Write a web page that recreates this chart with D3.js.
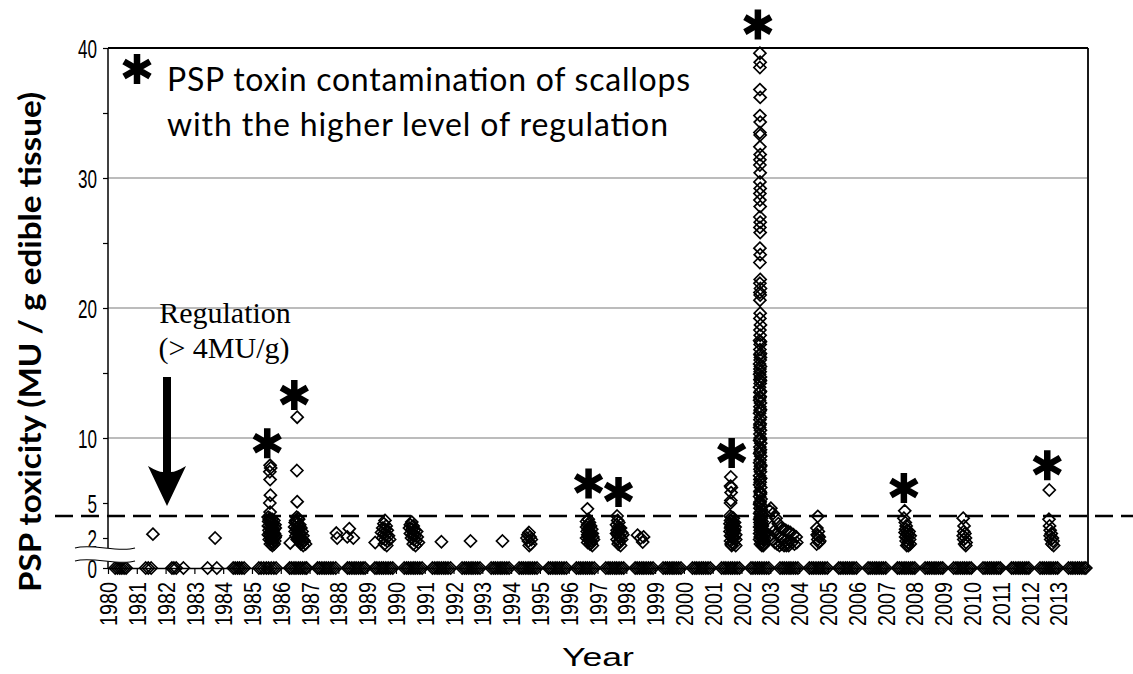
<!DOCTYPE html>
<html lang="en">
<head>
    <meta charset="UTF-8">
    <title>PSP toxicity of scallops, 1980-2013</title>
    <script src="https://d3js.org/d3.v7.min.js"></script>
    <style>
        body, html {
            margin: 0;
            padding: 0;
            background-color: #ffffff;
        }
        svg {
            display: block;
        }
        .tick-label {
            font-family: "Liberation Sans", Arial, sans-serif;
            fill: #000;
        }
    </style>
</head>
<body>
    <div id="chart"></div>
    <script>
        // samples with no toxin detected (0 MU/g), decimal year of sampling
        const zeroDates1980s = [
            1980.25, 1980.33, 1980.41, 1980.48, 1980.56, 1980.63,
            1981.31, 1981.40, 1981.50,
            1982.22, 1982.29, 1982.37, 1982.62,
            1983.46, 1983.78,
            1984.35, 1984.42, 1984.50, 1984.57, 1984.65, 1984.73,
            1985.24, 1985.32, 1985.41, 1985.50, 1985.58, 1985.67, 1985.76, 1985.84,
            1986.31, 1986.38, 1986.46, 1986.53, 1986.61, 1986.68, 1986.76, 1986.84, 1986.90,
            1987.28, 1987.35, 1987.43, 1987.51, 1987.58, 1987.66, 1987.74, 1987.82, 1987.91,
            1988.32, 1988.39, 1988.47, 1988.55, 1988.62, 1988.70, 1988.78, 1988.86, 1988.93,
            1989.27, 1989.34, 1989.42, 1989.50, 1989.57, 1989.65, 1989.73, 1989.81, 1989.89
        ];
        const zeroDates1990s = [
            1990.29, 1990.37, 1990.44, 1990.52, 1990.60, 1990.67, 1990.75, 1990.83, 1990.91,
            1991.27, 1991.35, 1991.43, 1991.50, 1991.58, 1991.66, 1991.73, 1991.81, 1991.90,
            1992.30, 1992.38, 1992.45, 1992.53, 1992.61, 1992.68, 1992.76, 1992.84, 1992.92,
            1993.31, 1993.39, 1993.46, 1993.54, 1993.62, 1993.69, 1993.77, 1993.85, 1993.93,
            1994.28, 1994.36, 1994.43, 1994.51, 1994.59, 1994.66, 1994.74, 1994.82, 1994.90,
            1995.30, 1995.37, 1995.45, 1995.53, 1995.60, 1995.68, 1995.76, 1995.84, 1995.92,
            1996.27, 1996.35, 1996.42, 1996.50, 1996.58, 1996.65, 1996.73, 1996.81, 1996.89,
            1997.29, 1997.37, 1997.44, 1997.52, 1997.60, 1997.67, 1997.75, 1997.83, 1997.91,
            1998.31, 1998.38, 1998.46, 1998.54, 1998.61, 1998.69, 1998.77, 1998.85, 1998.93,
            1999.28, 1999.36, 1999.43, 1999.51, 1999.59, 1999.66, 1999.74, 1999.82, 1999.90
        ];
        const zeroDates2000s = [
            2000.30, 2000.38, 2000.45, 2000.53, 2000.61, 2000.68, 2000.76, 2000.84, 2000.92,
            2001.31, 2001.39, 2001.46, 2001.54, 2001.62, 2001.69, 2001.77, 2001.85, 2001.93,
            2002.33, 2002.40, 2002.48, 2002.56, 2002.63, 2002.71, 2002.79, 2002.87, 2002.95,
            2003.34, 2003.42, 2003.49, 2003.57, 2003.65, 2003.72, 2003.80, 2003.88, 2003.96,
            2004.36, 2004.44, 2004.51, 2004.59, 2004.67, 2004.74, 2004.82, 2004.90, 2004.98,
            2005.38, 2005.45, 2005.53, 2005.61, 2005.68, 2005.76, 2005.84, 2005.91, 2005.99,
            2006.40, 2006.47, 2006.55, 2006.63, 2006.70, 2006.78, 2006.86, 2006.93, 2007.01,
            2007.42, 2007.49, 2007.57, 2007.65, 2007.72, 2007.80, 2007.88, 2007.95, 2008.02,
            2008.38, 2008.46, 2008.53, 2008.61, 2008.69, 2008.76, 2008.84, 2008.92, 2008.99,
            2009.37, 2009.45, 2009.52, 2009.60, 2009.68, 2009.75, 2009.83, 2009.91, 2009.98
        ];
        const zeroDates2010s = [
            2010.39, 2010.46, 2010.54, 2010.62, 2010.69, 2010.77, 2010.85, 2010.92, 2010.99,
            2011.38, 2011.45, 2011.53, 2011.61, 2011.68, 2011.76, 2011.84, 2011.91, 2011.98,
            2012.37, 2012.45, 2012.52, 2012.60, 2012.68, 2012.75, 2012.83, 2012.91, 2012.98,
            2013.36, 2013.44, 2013.51, 2013.59, 2013.67, 2013.74, 2013.82, 2013.90, 2013.96
        ];

        // toxic samples [decimal year, MU/g]
        const toxic1980s = [
            [1981.56, 2.35], [1983.72, 2.0],
            [1985.63, 7.9], [1985.65, 7.7], [1985.62, 7.4], [1985.63, 6.8], [1985.64, 5.6], [1985.62, 5.0], [1985.63, 4.3],
            [1985.56, 3.9], [1985.62, 3.8], [1985.70, 3.7], [1985.76, 3.6], [1985.58, 3.5], [1985.66, 3.4], [1985.73, 3.3], [1985.80, 3.2],
            [1985.57, 3.1], [1985.63, 3.0], [1985.69, 2.9], [1985.75, 2.8], [1985.81, 2.9], [1985.59, 2.7], [1985.66, 2.6], [1985.72, 2.5],
            [1985.78, 2.4], [1985.57, 2.3], [1985.63, 2.2], [1985.70, 2.1], [1985.76, 2.0], [1985.82, 2.2], [1985.60, 1.9], [1985.67, 1.8],
            [1985.73, 1.7], [1985.79, 1.8], [1985.64, 1.6], [1985.71, 1.5], [1985.77, 1.6],
            [1985.60, 3.65], [1985.68, 3.15], [1985.74, 2.65], [1985.62, 2.45], [1985.80, 2.05], [1985.66, 1.95], [1985.70, 1.65],
            [1986.57, 11.6], [1986.56, 7.5], [1986.57, 5.1], [1986.33, 1.67],
            [1986.55, 3.9], [1986.60, 3.8], [1986.52, 3.6], [1986.62, 3.7], [1986.50, 3.4], [1986.58, 3.3], [1986.66, 3.2], [1986.48, 3.0],
            [1986.55, 2.9], [1986.63, 2.8], [1986.70, 2.9], [1986.50, 2.6], [1986.58, 2.5], [1986.66, 2.4], [1986.74, 2.6], [1986.53, 2.2],
            [1986.61, 2.1], [1986.69, 2.0], [1986.77, 2.2], [1986.57, 1.9], [1986.65, 1.8], [1986.73, 1.7], [1986.81, 1.8], [1986.70, 1.6],
            [1986.78, 1.5], [1986.86, 1.6],
            [1986.56, 3.45], [1986.64, 3.05], [1986.60, 2.65], [1986.68, 2.3], [1986.62, 1.95], [1986.76, 1.9],
            [1987.93, 2.45], [1987.96, 2.0], [1988.38, 2.85], [1988.31, 2.1], [1988.52, 2.0],
            [1989.28, 1.7], [1989.62, 3.6], [1989.58, 3.3], [1989.66, 3.1], [1989.54, 2.9], [1989.62, 2.8], [1989.70, 2.7], [1989.50, 2.5],
            [1989.58, 2.4], [1989.66, 2.3], [1989.74, 2.2], [1989.54, 2.0], [1989.62, 1.9], [1989.70, 1.8], [1989.78, 1.9], [1989.60, 1.6],
            [1989.68, 1.5]
        ];
        const toxic1990s = [
            [1990.55, 3.45], [1990.50, 3.2], [1990.60, 3.1], [1990.47, 2.9], [1990.56, 2.8], [1990.64, 2.7], [1990.72, 2.6], [1990.50, 2.4],
            [1990.58, 2.3], [1990.66, 2.2], [1990.74, 2.1], [1990.54, 2.0], [1990.62, 1.9], [1990.70, 1.8], [1990.78, 1.7], [1990.60, 1.6],
            [1990.68, 1.5],
            [1991.58, 1.75], [1992.59, 1.8], [1993.70, 1.8],
            [1994.62, 2.5], [1994.58, 2.3], [1994.66, 2.1], [1994.55, 2.0], [1994.70, 1.9], [1994.60, 1.8], [1994.68, 1.6], [1994.63, 1.5],
            [1996.65, 4.55], [1996.68, 3.7], [1996.62, 3.5], [1996.72, 3.4], [1996.66, 3.2], [1996.76, 3.1], [1996.62, 3.0], [1996.70, 2.9],
            [1996.80, 2.8], [1996.64, 2.6], [1996.72, 2.5], [1996.82, 2.4], [1996.66, 2.3], [1996.74, 2.2], [1996.84, 2.1], [1996.62, 2.0],
            [1996.70, 1.9], [1996.78, 1.8], [1996.86, 1.9], [1996.66, 1.7], [1996.74, 1.6], [1996.82, 1.5],
            [1996.68, 2.75], [1996.76, 2.35], [1996.70, 2.05], [1996.78, 1.65],
            [1997.68, 4.0], [1997.70, 3.6], [1997.74, 3.4], [1997.66, 3.2], [1997.72, 3.0], [1997.80, 2.9], [1997.68, 2.7], [1997.76, 2.6],
            [1997.84, 2.5], [1997.66, 2.4], [1997.72, 2.2], [1997.80, 2.1], [1997.88, 2.3], [1997.68, 1.9], [1997.76, 1.8], [1997.84, 1.9],
            [1997.72, 1.6], [1997.80, 1.5],
            [1997.74, 2.85], [1997.70, 2.45], [1997.78, 2.05], [1997.74, 1.75],
            [1998.39, 2.26], [1998.50, 2.0], [1998.60, 2.1], [1998.57, 1.73]
        ];
        const toxic2001 = [
            [2001.63, 7.0], [2001.62, 6.3], [2001.65, 6.2], [2001.64, 5.8], [2001.63, 5.2], [2001.62, 5.0],
            [2001.60, 4.0], [2001.66, 3.9], [2001.72, 3.8], [2001.62, 3.6], [2001.68, 3.5], [2001.76, 3.4], [2001.60, 3.3], [2001.66, 3.2],
            [2001.72, 3.1], [2001.78, 3.0], [2001.62, 2.9], [2001.70, 2.8], [2001.76, 2.7], [2001.60, 2.6], [2001.66, 2.5], [2001.72, 2.4],
            [2001.80, 2.3], [2001.62, 2.2], [2001.68, 2.1], [2001.74, 2.0], [2001.80, 1.9], [2001.62, 1.8], [2001.68, 1.7], [2001.74, 1.6],
            [2001.80, 1.5], [2001.66, 1.5],
            [2001.70, 3.35], [2001.64, 3.05], [2001.74, 2.65], [2001.68, 2.35], [2001.70, 1.95], [2001.64, 1.6]
        ];
        const toxic2002 = [
            [2002.64, 39.6], [2002.65, 38.9], [2002.64, 38.5], [2002.64, 36.8], [2002.65, 36.2], [2002.64, 34.8], [2002.65, 34.3], [2002.64, 33.5],
            [2002.65, 33.3], [2002.64, 32.4], [2002.65, 31.8], [2002.64, 31.4], [2002.64, 31.0], [2002.65, 30.4], [2002.64, 29.7], [2002.65, 29.2],
            [2002.64, 28.8], [2002.64, 28.3], [2002.65, 27.8], [2002.64, 27.0], [2002.65, 26.6], [2002.64, 26.2], [2002.65, 25.8], [2002.64, 24.6],
            [2002.65, 24.1], [2002.64, 23.5], [2002.65, 22.2], [2002.64, 21.9], [2002.66, 21.5], [2002.64, 21.2], [2002.65, 21.0], [2002.64, 20.6],
            [2002.65, 19.6], [2002.64, 19.2], [2002.66, 18.7], [2002.64, 18.3], [2002.65, 17.9], [2002.63, 17.5], [2002.66, 17.4], [2002.65, 17.2],
            [2002.64, 16.8], [2002.66, 16.5], [2002.64, 16.4], [2002.65, 16.0], [2002.63, 15.7], [2002.66, 15.5], [2002.65, 15.1], [2002.63, 14.9],
            [2002.66, 14.7], [2002.64, 14.5], [2002.65, 14.2], [2002.63, 13.9], [2002.66, 13.6], [2002.64, 13.5], [2002.65, 13.2], [2002.63, 12.9],
            [2002.66, 12.7], [2002.64, 12.4], [2002.65, 12.1], [2002.63, 11.9], [2002.66, 11.6], [2002.64, 11.4], [2002.65, 11.1], [2002.63, 10.8],
            [2002.66, 10.6], [2002.64, 10.3], [2002.65, 10.0],
            [2002.63, 9.8], [2002.67, 9.6], [2002.64, 9.3], [2002.66, 9.1], [2002.63, 8.8], [2002.67, 8.6], [2002.65, 8.3], [2002.63, 8.1],
            [2002.67, 7.9], [2002.64, 7.6], [2002.66, 7.4], [2002.63, 7.1], [2002.67, 6.9], [2002.65, 6.6], [2002.63, 6.4], [2002.67, 6.2],
            [2002.64, 5.9], [2002.66, 5.7], [2002.63, 5.5], [2002.68, 5.3], [2002.65, 5.1], [2002.63, 4.9], [2002.67, 4.8], [2002.64, 4.6],
            [2002.69, 4.5], [2002.66, 4.3], [2002.63, 4.2], [2002.68, 4.1], [2002.65, 3.9], [2002.70, 3.8], [2002.63, 3.7], [2002.67, 3.6],
            [2002.72, 3.5], [2002.64, 3.4], [2002.69, 3.3], [2002.66, 3.2], [2002.73, 3.1], [2002.63, 3.0], [2002.68, 2.9], [2002.74, 2.8],
            [2002.65, 2.7], [2002.70, 2.6], [2002.76, 2.5], [2002.63, 2.4], [2002.68, 2.3], [2002.73, 2.2], [2002.78, 2.3], [2002.65, 2.1],
            [2002.70, 2.0], [2002.76, 1.9], [2002.80, 2.0], [2002.63, 1.9], [2002.68, 1.8], [2002.73, 1.7], [2002.78, 1.6], [2002.66, 1.6],
            [2002.71, 1.5], [2002.76, 1.5],
            [2002.66, 16.2], [2002.64, 15.3], [2002.66, 14.4], [2002.64, 13.1], [2002.66, 12.2], [2002.64, 11.0], [2002.66, 9.9],
            [2002.65, 8.9], [2002.66, 7.8], [2002.64, 6.8], [2002.66, 5.8], [2002.64, 5.0],
            [2003.02, 4.6], [2002.98, 4.4], [2003.10, 4.2], [2003.20, 3.8], [2003.28, 3.3], [2003.37, 2.9], [2003.45, 2.8], [2003.54, 2.7],
            [2003.62, 2.6], [2003.70, 2.5], [2003.80, 2.3], [2003.90, 2.1], [2003.05, 3.0], [2003.12, 2.6], [2003.20, 2.4], [2003.28, 2.2],
            [2003.36, 2.0], [2003.44, 1.9], [2003.52, 1.8], [2003.60, 1.7], [2003.68, 1.8], [2003.76, 1.7], [2003.84, 1.6], [2003.92, 1.7],
            [2003.00, 2.2], [2003.08, 1.9], [2003.16, 1.7], [2003.24, 1.6], [2003.32, 1.5], [2003.40, 1.6], [2003.48, 1.5], [2003.56, 1.5],
            [2003.64, 1.5]
        ];
        const toxic2004to2013 = [
            [2004.65, 3.97], [2004.62, 2.9], [2004.67, 2.6], [2004.63, 2.3], [2004.70, 2.1], [2004.65, 1.9], [2004.69, 1.7], [2004.61, 1.6],
            [2004.72, 1.8], [2004.66, 2.2],
            [2007.67, 4.4], [2007.64, 3.8], [2007.69, 3.4], [2007.72, 3.1], [2007.70, 2.8], [2007.76, 2.7], [2007.82, 2.6], [2007.68, 2.5],
            [2007.74, 2.4], [2007.80, 2.3], [2007.86, 2.2], [2007.70, 2.1], [2007.76, 2.0], [2007.84, 1.9], [2007.72, 1.8], [2007.78, 1.7],
            [2007.86, 1.6], [2007.80, 1.5], [2007.74, 1.5],
            [2009.70, 3.8], [2009.73, 3.1], [2009.72, 2.6], [2009.76, 2.4], [2009.70, 2.2], [2009.78, 2.0], [2009.72, 1.9], [2009.80, 1.7],
            [2009.75, 1.6], [2009.79, 1.5],
            [2012.69, 6.0], [2012.68, 3.7], [2012.70, 3.1], [2012.72, 2.7], [2012.76, 2.4], [2012.72, 2.2], [2012.80, 2.0], [2012.74, 1.9],
            [2012.82, 1.8], [2012.78, 1.6], [2012.84, 1.5]
        ];

        // events with the higher regulation level (asterisks)
        const eventYears = [1985.53, 1986.47, 1996.69, 1997.73, 2001.66, 2002.57, 2007.64, 2012.62];
        const eventLevels = [9.6, 13.3, 6.5, 5.85, 8.85, 41.8, 6.15, 7.9];

        const yearTicks = d3.range(1980, 2014);
        const yTickValues = [0, 2, 5, 10, 15, 20, 25, 30, 35, 40];
        const yTickLabels = [0, 2, 5, 10, 20, 30, 40];
        const gridValues = [10, 20, 30];
        const regulationLevel = 4;

        const width = 1133;
        const height = 674;

        const svg = d3.select("#chart")
            .append("svg")
            .attr("width", width)
            .attr("height", height);

        const x = d3.scaleLinear().domain([1980, 2014]).range([108, 1087]);
        // broken axis: the 0-5 band is stretched
        const y = d3.scaleLinear().domain([0, 2, 4, 5, 40]).range([568, 538, 516, 503, 48]);

        // gridlines
        svg.append("g")
            .selectAll("line")
            .data(gridValues)
            .join("line")
            .attr("x1", x(1980))
            .attr("x2", x(2014))
            .attr("y1", d => y(d))
            .attr("y2", d => y(d))
            .attr("stroke", "#a6a6a6")
            .attr("stroke-width", 1.4);

        // all samples
        const points = [
            ...zeroDates1980s, ...zeroDates1990s, ...zeroDates2000s, ...zeroDates2010s
        ].map(d => [d, 0]).concat(toxic1980s, toxic1990s, toxic2001, toxic2002, toxic2004to2013);

        svg.append("g")
            .selectAll("path")
            .data(points)
            .join("path")
            .attr("transform", d => `translate(${x(d[0])},${y(d[1])})`)
            .attr("d", "M0,-6L6,0L0,6L-6,0Z")
            .attr("fill", "none")
            .attr("stroke", "#000")
            .attr("stroke-width", 1.7);

        // regulation level dashed line
        svg.append("line")
            .attr("x1", 55)
            .attr("x2", width)
            .attr("y1", y(regulationLevel))
            .attr("y2", y(regulationLevel))
            .attr("stroke", "#000")
            .attr("stroke-width", 2.6)
            .attr("stroke-dasharray", "18 8");

        // x axis
        const xAxis = d3.axisBottom(x)
            .tickValues(yearTicks)
            .tickFormat(d3.format("d"))
            .tickSize(6)
            .tickSizeOuter(0);

        const gx = svg.append("g")
            .attr("transform", `translate(0,${y(0)})`)
            .call(xAxis);
        gx.select(".domain").attr("stroke-width", 1.5);
        gx.selectAll(".tick line").attr("stroke-width", 1.2);
        gx.selectAll("text")
            .attr("class", "tick-label")
            .attr("transform", "rotate(-90)")
            .attr("text-anchor", "end")
            .attr("x", -14)
            .attr("y", 0)
            .attr("dy", "0.36em")
            .attr("font-size", 24)
            .attr("textLength", 44)
            .attr("lengthAdjust", "spacingAndGlyphs");

        // y axis
        const yAxis = d3.axisLeft(y)
            .tickValues(yTickValues)
            .tickFormat(d => yTickLabels.includes(d) ? d : "")
            .tickSize(5)
            .tickPadding(6);

        const gy = svg.append("g")
            .attr("transform", `translate(${x(1980)},0)`)
            .call(yAxis);
        gy.select(".domain").remove();
        gy.selectAll(".tick line").attr("stroke-width", 1.2);
        gy.selectAll("text")
            .attr("class", "tick-label")
            .attr("font-size", 25)
            .attr("dy", "0.36em")
            .attr("textLength", function() { return this.textContent.length * 9.5; })
            .attr("lengthAdjust", "spacingAndGlyphs");

        // axis line with a break between 0 and 2
        svg.append("line")
            .attr("x1", x(1980)).attr("x2", x(1980))
            .attr("y1", y(40)).attr("y2", 548)
            .attr("stroke", "#000").attr("stroke-width", 1.5);
        svg.append("line")
            .attr("x1", x(1980)).attr("x2", x(1980))
            .attr("y1", 561).attr("y2", y(0))
            .attr("stroke", "#000").attr("stroke-width", 1.5);

        svg.append("path")
            .attr("d", "M75,548 C92,543 118,553 135,548 L135,561 C118,566 92,556 75,561 Z")
            .attr("fill", "#fff");
        svg.append("path")
            .attr("d", "M75,548 C92,543 118,553 135,548 M75,561 C92,556 118,566 135,561")
            .attr("fill", "none")
            .attr("stroke", "#000")
            .attr("stroke-width", 1.2);

        // frame top and right
        svg.append("line")
            .attr("x1", x(1980)).attr("x2", x(2014) + 1)
            .attr("y1", y(40)).attr("y2", y(40))
            .attr("stroke", "#000").attr("stroke-width", 2);
        svg.append("line")
            .attr("x1", x(2014) + 1).attr("x2", x(2014) + 1)
            .attr("y1", y(40)).attr("y2", y(0))
            .attr("stroke", "#000").attr("stroke-width", 1.8);

        // asterisk marks
        const asteriskPath = "M0,-15V15M-13,-7.5L13,7.5M-13,7.5L13,-7.5";
        svg.append("g")
            .selectAll("path")
            .data(eventYears.map((d, i) => [d, eventLevels[i]]))
            .join("path")
            .attr("transform", d => `translate(${x(d[0])},${y(d[1])})`)
            .attr("d", asteriskPath)
            .attr("stroke", "#000")
            .attr("stroke-width", 6.5)
            .attr("fill", "none");

        // legend
        svg.append("path")
            .attr("transform", "translate(137,69)")
            .attr("d", asteriskPath)
            .attr("stroke", "#000")
            .attr("stroke-width", 6.5);

        const legendText = svg.append("text")
            .attr("font-family", "Lato, 'Open Sans', sans-serif")
            .attr("font-size", 32)
            .attr("fill", "#000");
        legendText.append("tspan")
            .attr("x", 167).attr("y", 91)
            .attr("textLength", 523)
            .text("PSP toxin contamination of scallops");
        legendText.append("tspan")
            .attr("x", 167).attr("y", 136)
            .attr("textLength", 501)
            .text("with the higher level of regulation");

        // regulation annotation
        const regText = svg.append("text")
            .attr("font-family", "'Liberation Serif', 'Times New Roman', serif")
            .attr("font-size", 30)
            .attr("text-anchor", "middle")
            .attr("fill", "#000");
        regText.append("tspan").attr("x", 225).attr("y", 323).text("Regulation");
        regText.append("tspan").attr("x", 224).attr("y", 358).text("(> 4MU/g)");

        svg.append("path")
            .attr("d", "M148,466 Q158,472 163,472 L163,377 L171,377 L171,472 Q176,472 186,466 L167,506 Z")
            .attr("fill", "#000");

        // axis titles
        svg.append("text")
            .attr("transform", "translate(41,342) rotate(-90)")
            .attr("text-anchor", "middle")
            .attr("font-family", "Lato, 'Open Sans', sans-serif")
            .attr("font-weight", 700)
            .attr("font-size", 30)
            .attr("textLength", 500)
            .attr("lengthAdjust", "spacingAndGlyphs")
            .text("PSP toxicity (MU / g edible tissue)");

        svg.append("text")
            .attr("class", "tick-label")
            .attr("x", 598)
            .attr("y", 666)
            .attr("text-anchor", "middle")
            .attr("font-size", 26)
            .attr("textLength", 72)
            .attr("lengthAdjust", "spacingAndGlyphs")
            .text("Year");
    </script>
</body>
</html>
